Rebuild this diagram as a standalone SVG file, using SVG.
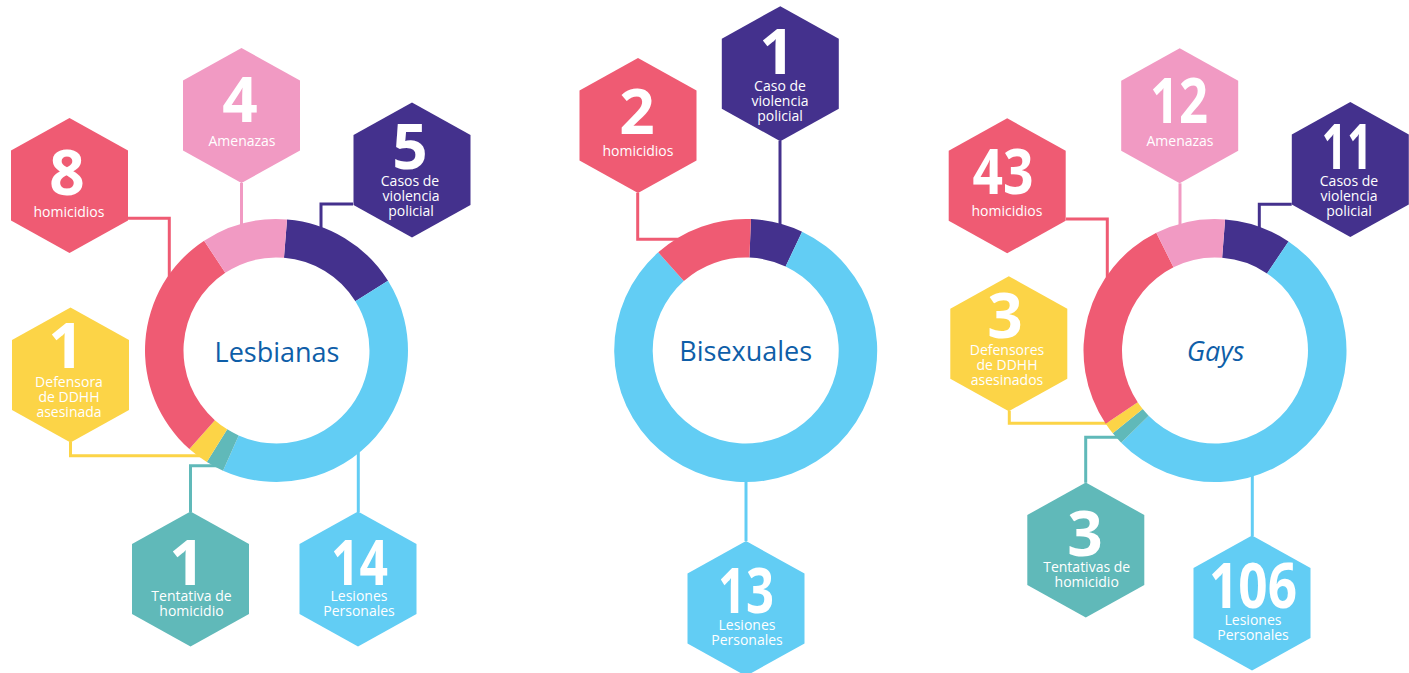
<svg xmlns="http://www.w3.org/2000/svg" xmlns:xlink="http://www.w3.org/1999/xlink" width="1409" height="673" viewBox="0 0 1409 673">
<style>
.red{fill:#ef5b73}.pink{fill:#f19ac3}.purple{fill:#44318d}.yellow{fill:#fcd447}.teal{fill:#60b9b9}.blue{fill:#62cdf4}
.c{fill:none;stroke-width:3}
.cr{stroke:#ef5b73}.cp{stroke:#f19ac3}.cu{stroke:#44318d}.cy{stroke:#fcd447}.ct{stroke:#60b9b9}.cb{stroke:#62cdf4}
.num{font-family:"Open Sans","Liberation Sans",sans-serif;font-weight:700;font-size:62px;fill:#fff;text-anchor:middle}
.lbl{font-family:"Open Sans","Liberation Sans",sans-serif;font-size:14px;fill:#fff;text-anchor:middle}
.ctr{font-family:"Open Sans","Liberation Sans",sans-serif;font-size:27px;fill:#0e5ea8;text-anchor:middle}
</style>
<defs>
<path id="hex" d="M0,-67.5 L58.5,-35 L58.5,35 L0,67.5 L-58.5,35 L-58.5,-35 Z"/>
</defs>

<g id="connectors">
<path class="c cr" d="M128,218.3 H169.3 V285"/>
<path class="c cp" d="M241.5,183 V235"/>
<path class="c cu" d="M353,204 H321 V240"/>
<path class="c cy" d="M70.5,442 V455.7 H205"/>
<path class="c ct" d="M190.5,512 V465.7 H220"/>
<path class="c cb" d="M358.3,512 V440"/>
<path class="c cr" d="M637.7,192.7 V239.3 H690"/>
<path class="c cu" d="M780,140.7 V235"/>
<path class="c cb" d="M746,541 V470"/>
<path class="c cr" d="M1066,219 H1107.3 V285"/>
<path class="c cp" d="M1180,183.3 V235"/>
<path class="c cu" d="M1291.7,204.3 H1259.3 V235"/>
<path class="c cy" d="M1009.3,410.7 V423.3 H1115"/>
<path class="c ct" d="M1085.7,482.7 V437.3 H1125"/>
<path class="c cb" d="M1252.3,536 V465"/>
</g>

<g id="donut-lesbianas">
<path class="purple" d="M287.05,219.42 A131.5,131.5 0 0 1 388.01,280.82 L355.36,301.22 A93,93 0 0 0 283.96,257.8 Z"/>
<path class="blue" d="M388.01,280.82 A131.5,131.5 0 0 1 223.02,470.63 L238.68,435.46 A93,93 0 0 0 355.36,301.22 Z"/>
<path class="teal" d="M223.02,470.63 A131.5,131.5 0 0 1 206.82,462.01 L227.22,429.36 A93,93 0 0 0 238.68,435.46 Z"/>
<path class="yellow" d="M206.82,462.01 A131.5,131.5 0 0 1 189.37,448.99 L214.88,420.16 A93,93 0 0 0 227.22,429.36 Z"/>
<path class="red" d="M189.37,448.99 A131.5,131.5 0 0 1 204.11,240.72 L225.3,272.86 A93,93 0 0 0 214.88,420.16 Z"/>
<path class="pink" d="M204.11,240.72 A131.5,131.5 0 0 1 287.05,219.42 L283.96,257.8 A93,93 0 0 0 225.3,272.86 Z"/>
<text class="ctr" x="277" y="361.5">Lesbianas</text>
</g>

<g id="donut-bisexuales">
<path class="purple" d="M750.97,219.11 A131.5,131.5 0 0 1 802.1,231.72 L785.59,266.49 A93,93 0 0 0 749.43,257.57 Z"/>
<path class="blue" d="M802.1,231.72 A131.5,131.5 0 1 1 658.23,252.32 L683.84,281.07 A93,93 0 1 0 785.59,266.49 Z"/>
<path class="red" d="M658.23,252.32 A131.5,131.5 0 0 1 750.97,219.11 L749.43,257.57 A93,93 0 0 0 683.84,281.07 Z"/>
<text class="ctr" x="745.7" y="360.7">Bisexuales</text>
</g>

<g id="donut-gays">
<path class="purple" d="M1225.09,219.38 A131.5,131.5 0 0 1 1288.53,241.49 L1267.01,273.4 A93,93 0 0 0 1222.13,257.77 Z"/>
<path class="blue" d="M1288.53,241.49 A131.5,131.5 0 1 1 1121.2,442.67 L1148.66,415.68 A93,93 0 1 0 1267.01,273.4 Z"/>
<path class="teal" d="M1121.2,442.67 A131.5,131.5 0 0 1 1112.81,433.25 L1142.73,409.02 A93,93 0 0 0 1148.66,415.68 Z"/>
<path class="yellow" d="M1112.81,433.25 A131.5,131.5 0 0 1 1105.72,423.65 L1137.72,402.24 A93,93 0 0 0 1142.73,409.02 Z"/>
<path class="red" d="M1105.72,423.65 A131.5,131.5 0 0 1 1156.32,232.82 L1173.5,267.27 A93,93 0 0 0 1137.72,402.24 Z"/>
<path class="pink" d="M1156.32,232.82 A131.5,131.5 0 0 1 1225.09,219.38 L1222.13,257.77 A93,93 0 0 0 1173.5,267.27 Z"/>
<text class="ctr" x="1215.5" y="360.7" font-style="italic">Gays</text>
</g>

<g id="les-homicidios">
<use xlink:href="#hex" class="red" transform="translate(69.5,185.5)"/>
<text class="num" x="67" y="195">8</text>
<text class="lbl" x="69" y="216.7">homicidios</text>
</g>
<g id="les-amenazas">
<use xlink:href="#hex" class="pink" transform="translate(241.5,115.5)"/>
<text class="num" x="240" y="122">4</text>
<text class="lbl" x="242" y="146">Amenazas</text>
</g>
<g id="les-violencia">
<use xlink:href="#hex" class="purple" transform="translate(412,170)"/>
<text class="num" x="410" y="169">5</text>
<text class="lbl" x="410" y="186">Casos de</text>
<text class="lbl" x="411" y="201">violencia</text>
<text class="lbl" x="411" y="216">policial</text>
</g>
<g id="les-defensora">
<use xlink:href="#hex" class="yellow" transform="translate(70.5,375)"/>
<text class="num" x="66" y="368">1</text>
<text class="lbl" x="69" y="387">Defensora</text>
<text class="lbl" x="69" y="402">de DDHH</text>
<text class="lbl" x="69" y="417">asesinada</text>
</g>
<g id="les-tentativa">
<use xlink:href="#hex" class="teal" transform="translate(190.5,579)"/>
<text class="num" x="187" y="585">1</text>
<text class="lbl" x="191.5" y="601">Tentativa de</text>
<text class="lbl" x="191.5" y="616">homicidio</text>
</g>
<g id="les-lesiones">
<use xlink:href="#hex" class="blue" transform="translate(358,579)"/>
<text class="num" x="359.5" y="585" textLength="57" lengthAdjust="spacingAndGlyphs">14</text>
<text class="lbl" x="359" y="601">Lesiones</text>
<text class="lbl" x="359" y="616">Personales</text>
</g>

<g id="bis-homicidios">
<use xlink:href="#hex" class="red" transform="translate(638,125.5)"/>
<text class="num" x="637" y="134">2</text>
<text class="lbl" x="638" y="155.7">homicidios</text>
</g>
<g id="bis-violencia">
<use xlink:href="#hex" class="purple" transform="translate(780.3,73.7)"/>
<text class="num" x="777" y="74">1</text>
<text class="lbl" x="780" y="90.7">Caso de</text>
<text class="lbl" x="780" y="105.7">violencia</text>
<text class="lbl" x="780" y="120.5">policial</text>
</g>
<g id="bis-lesiones">
<use xlink:href="#hex" class="blue" transform="translate(746,608.5)"/>
<text class="num" x="746" y="613" textLength="56" lengthAdjust="spacingAndGlyphs">13</text>
<text class="lbl" x="747" y="630">Lesiones</text>
<text class="lbl" x="747" y="645">Personales</text>
</g>

<g id="gay-homicidios">
<use xlink:href="#hex" class="red" transform="translate(1007.2,185.8)"/>
<text class="num" x="1003" y="194" textLength="61" lengthAdjust="spacingAndGlyphs">43</text>
<text class="lbl" x="1007" y="216">homicidios</text>
</g>
<g id="gay-amenazas">
<use xlink:href="#hex" class="pink" transform="translate(1179.7,115.8)"/>
<text class="num" x="1179" y="122.7" textLength="58" lengthAdjust="spacingAndGlyphs">12</text>
<text class="lbl" x="1180" y="145.7">Amenazas</text>
</g>
<g id="gay-violencia">
<use xlink:href="#hex" class="purple" transform="translate(1350.3,169.5)"/>
<text class="num" x="1347" y="169" textLength="51" lengthAdjust="spacingAndGlyphs">11</text>
<text class="lbl" x="1349" y="185.7">Casos de</text>
<text class="lbl" x="1349" y="200.7">violencia</text>
<text class="lbl" x="1349" y="215.7">policial</text>
</g>
<g id="gay-defensores">
<use xlink:href="#hex" class="yellow" transform="translate(1008.8,343.7)"/>
<text class="num" x="1005" y="338.3">3</text>
<text class="lbl" x="1007" y="355">Defensores</text>
<text class="lbl" x="1007" y="370">de DDHH</text>
<text class="lbl" x="1007" y="385">asesinados</text>
</g>
<g id="gay-tentativas">
<use xlink:href="#hex" class="teal" transform="translate(1085.8,550)"/>
<text class="num" x="1085" y="555.7">3</text>
<text class="lbl" x="1086.7" y="572.3">Tentativas de</text>
<text class="lbl" x="1086.7" y="586.7">homicidio</text>
</g>
<g id="gay-lesiones">
<use xlink:href="#hex" class="blue" transform="translate(1252,603)"/>
<text class="num" x="1253" y="608.3" textLength="88" lengthAdjust="spacingAndGlyphs">106</text>
<text class="lbl" x="1253" y="625">Lesiones</text>
<text class="lbl" x="1253" y="640">Personales</text>
</g>
</svg>
